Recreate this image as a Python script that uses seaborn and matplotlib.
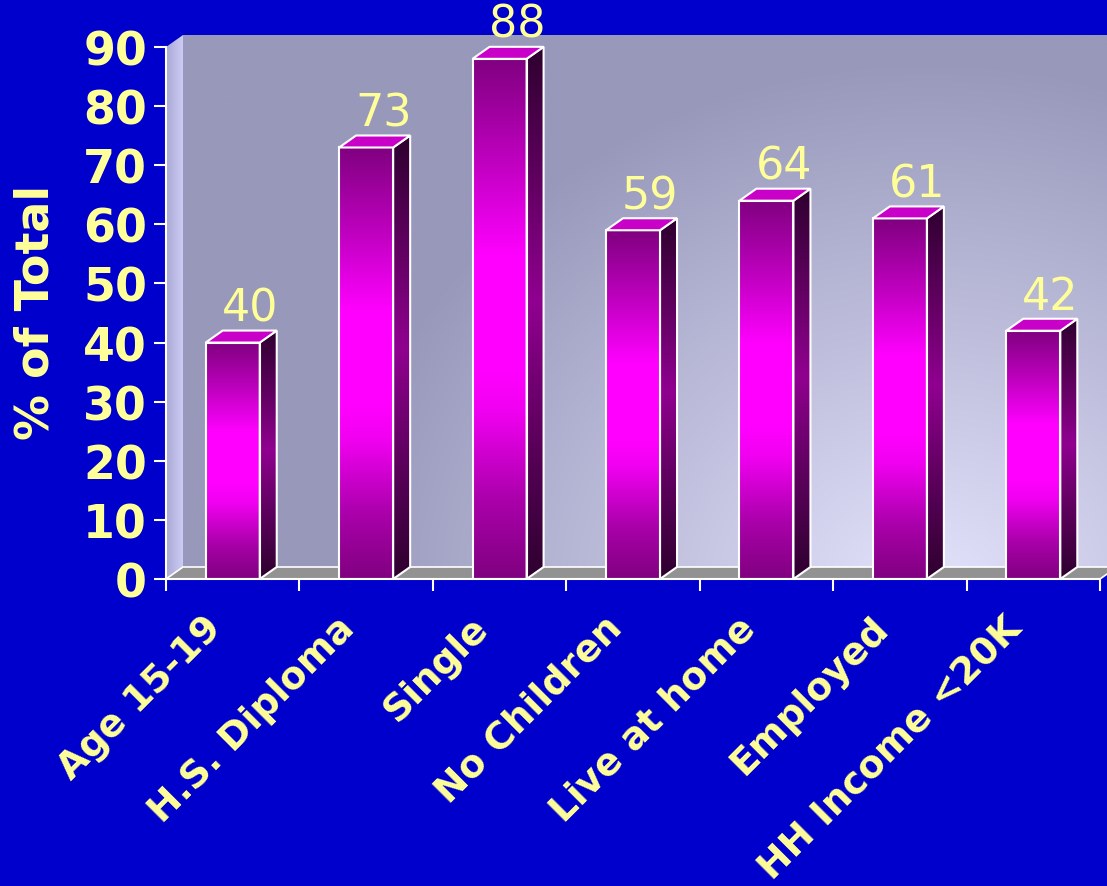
import numpy as np
import matplotlib
matplotlib.use("Agg")
import matplotlib.pyplot as plt
import matplotlib.transforms as mtransforms
from matplotlib.colors import LinearSegmentedColormap
from matplotlib.patches import Polygon
import seaborn as sns

# datos del grafico
categorias = ["Age 15-19", "H.S. Diploma", "Single", "No Children",
              "Live at home", "Employed", "HH Income <20K"]
valores = [40, 73, 88, 59, 64, 61, 42]
ticks_y = list(range(0, 100, 10))

AZUL = "#0000CC"
AMARILLO = "#FFFF99"

# escala en pixeles (para el efecto 3D)
PX_X = 133.43   # pixeles por categoria
PX_Y = 5.911    # pixeles por unidad
DX = 17 / PX_X
DY = 12 / PX_Y
X_MAX = -0.5 + (1107 - 166) / PX_X
Y_MAX = 90 + DY

fig = plt.figure(figsize=(11.07, 8.87), dpi=100, facecolor=AZUL)
ax = fig.add_axes([166 / 1107, (887 - 580) / 887, (1107 - 166) / 1107, (580 - 36) / 887])
ax.set_facecolor(AZUL)

# --- barras frontales con seaborn ---
sns.barplot(x=categorias, y=valores, width=0.405, color="#FF00FF", ax=ax,
            edgecolor="white", linewidth=1.5, zorder=5)

# --- pared del fondo con degradado ---
nx, ny = 400, 300
xs = np.linspace(-0.5 + DX, X_MAX, nx)
ys = np.linspace(DY, Y_MAX, ny)
gx, gy = np.meshgrid(xs, ys)
px = 166 + (gx + 0.5) * PX_X
py = 580 - gy * PX_Y
d = np.sqrt((px - 930) ** 2 + ((py - 600) / 0.9) ** 2)
t = np.clip(1 - d / 600, 0, 1)[..., None]
oscuro = np.array([152, 152, 187]) / 255
claro = np.array([228, 228, 253]) / 255
img = oscuro * (1 - t) + claro * t
ax.imshow(img, extent=(-0.5 + DX, X_MAX, DY, Y_MAX), origin="lower",
          aspect="auto", zorder=0, interpolation="bilinear")

# pared izquierda
pared = Polygon([(-0.5, 0), (-0.5 + DX, DY), (-0.5 + DX, Y_MAX), (-0.5, 90)],
                closed=True, facecolor="none", edgecolor="none", zorder=1)
ax.add_patch(pared)
grad_izq = np.linspace(0, 1, 64).reshape(1, -1)
cmap_izq = LinearSegmentedColormap.from_list("izq", ["#A8A8D2", "#CCCCF6"])
im = ax.imshow(grad_izq, cmap=cmap_izq, extent=(-0.5, -0.5 + DX, 0, Y_MAX),
               aspect="auto", zorder=1, origin="lower")
im.set_clip_path(pared)

# suelo
suelo = Polygon([(-0.5, 0), (6.5, 0), (6.5 + DX, DY), (-0.5 + DX, DY)], closed=True,
                facecolor="#929292", edgecolor="white", linewidth=1.2, zorder=2)
ax.add_patch(suelo)

# --- caras laterales y superiores ---
cmap_frente = LinearSegmentedColormap.from_list(
    "frente", [(0, "#800080"), (0.15, "#AA00AA"), (0.32, "#F000F0"), (0.4, "#FF00FF"),
               (0.62, "#FF00FF"), (0.8, "#C000C0"), (1, "#800080")])
cmap_lado = LinearSegmentedColormap.from_list(
    "lado", [(0, "#2E002E"), (0.25, "#5A005A"), (0.52, "#900090"),
             (0.78, "#5A005A"), (1, "#2E002E")])
grad_v = np.linspace(0, 1, 256).reshape(-1, 1)

for i, p in enumerate(ax.patches[:len(valores)]):
    x0 = p.get_x()
    x1 = x0 + p.get_width()
    h = p.get_height()
    p.set_facecolor("none")

    ax.imshow(grad_v, cmap=cmap_frente, extent=(x0, x1, 0, h), origin="lower",
              aspect="auto", zorder=4)

    lado = Polygon([(x1, 0), (x1 + DX, DY), (x1 + DX, h + DY), (x1, h)], closed=True,
                   facecolor="none", edgecolor="white", linewidth=1.5, zorder=5)
    ax.add_patch(lado)
    im = ax.imshow(grad_v, cmap=cmap_lado, extent=(x1, x1 + DX, 0, h + DY),
                   origin="lower", aspect="auto", zorder=4)
    im.set_clip_path(lado)

    tapa = Polygon([(x0, h), (x1, h), (x1 + DX, h + DY), (x0 + DX, h + DY)], closed=True,
                   facecolor="#C800C8", edgecolor="white", linewidth=1.5, zorder=5)
    ax.add_patch(tapa)

    ax.text(i + 0.13, h + DY + 1.7, f"{valores[i]}", ha="center", va="baseline",
            fontsize=32, color=AMARILLO, zorder=6)

# --- ejes ---
ax.set_xlim(-0.5, X_MAX)
ax.set_ylim(0, Y_MAX)
for lado_eje in ["top", "right"]:
    ax.spines[lado_eje].set_visible(False)
for lado_eje in ["left", "bottom"]:
    ax.spines[lado_eje].set_color("white")
    ax.spines[lado_eje].set_linewidth(1.5)
    ax.spines[lado_eje].set_zorder(10)
ax.spines["left"].set_bounds(0, 90)
ax.spines["bottom"].set_bounds(-0.5, 6.5)

ax.set_yticks(ticks_y)
ax.set_yticklabels([str(v) for v in ticks_y], fontsize=33, fontweight="bold", color=AMARILLO)
ax.tick_params(axis="y", length=8.6, width=1.5, color="white", pad=5)

ax.set_xticks(range(len(categorias)))
ax.set_xticklabels(categorias, rotation=45, ha="right", va="center",
                   rotation_mode="anchor", fontsize=27, fontweight="bold", color=AMARILLO)
ax.set_xticks(np.arange(-0.5, len(categorias), 1), minor=True)
ax.tick_params(axis="x", which="major", length=0, pad=31)
ax.tick_params(axis="x", which="minor", length=8.6, width=1.5, color="white")
desplaza = mtransforms.ScaledTranslation(-17 / 100, 0, fig.dpi_scale_trans)
for lbl in ax.get_xticklabels():
    lbl.set_transform(lbl.get_transform() + desplaza)

ax.set_xlabel("")
ax.set_ylabel("% of Total", fontsize=33, fontweight="bold", color=AMARILLO, va="center")
ax.yaxis.set_label_coords((36 - 166) / 941, (580 - 312) / 544)

fig.savefig("out.png", dpi=100, facecolor=AZUL)
